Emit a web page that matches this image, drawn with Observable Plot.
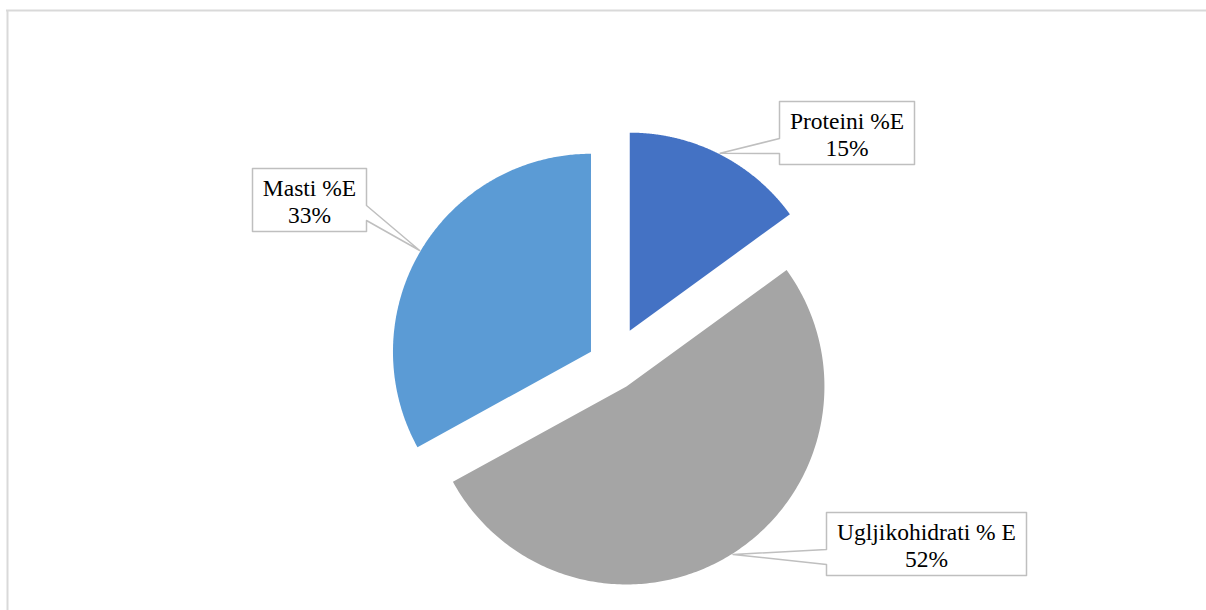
<!DOCTYPE html>
<html>
<head>
<meta charset="utf-8">
<script src="https://cdn.jsdelivr.net/npm/d3@7"></script>
<script src="https://cdn.jsdelivr.net/npm/@observablehq/plot@0.6"></script>
<style>
  html, body { margin: 0; padding: 0; background: #ffffff; }
  #chart svg { display: block; }
  #chart svg text, #chart svg tspan { font-family: "Liberation Serif", "Times New Roman", Times, "DejaVu Serif", serif !important; }
</style>
</head>
<body>
<div id="chart"></div>
<script>
// ---- data ----
const categories = ["Proteini %E", "Ugljikohidrati % E", "Masti %E"];
const values = [15, 52, 33];
const valueLabels = ["15%", "52%", "33%"];

// ---- styles / layout ----
const colors = ["#4472C4", "#A5A5A5", "#5B9BD5"];
const W = 1206, H = 610;
const pieCenter = [612, 364];
const radius = 198;
const explode = [38, 26, 25];
const labelBoxes = [
  {cx: 846.5, cy: 132.5, w: 135, h: 63},
  {cx: 926, cy: 543.5, w: 200, h: 63},
  {cx: 309, cy: 199.5, w: 114, h: 63}
];

const arcs = d3.pie().sort(null).value(d => d)(values);

// slice outlines derived from the pie layout
const slicePts = [];
const tips = [];
arcs.forEach((a, i) => {
  const mid = (a.startAngle + a.endAngle) / 2;
  const ox = pieCenter[0] + explode[i] * Math.sin(mid);
  const oy = pieCenter[1] - explode[i] * Math.cos(mid);
  slicePts.push({cat: categories[i], x: ox, y: oy});
  const n = 240;
  for (let k = 0; k <= n; k++) {
    const t = a.startAngle + (a.endAngle - a.startAngle) * k / n;
    slicePts.push({cat: categories[i], x: ox + radius * Math.sin(t), y: oy - radius * Math.cos(t)});
  }
  tips.push([ox + (radius + 1) * Math.sin(mid), oy - (radius + 1) * Math.cos(mid)]);
});

// callout outlines (box + wedge pointing to slice midpoint)
const calloutPts = [];
labelBoxes.forEach((b, i) => {
  const [tx, ty] = tips[i];
  const l = b.cx - b.w / 2, r = b.cx + b.w / 2, t = b.cy - b.h / 2, bt = b.cy + b.h / 2;
  const y1 = b.cy + 5.5, y2 = b.cy + 20.5;
  let pts;
  if (tx < l) {
    pts = [[l, t], [r, t], [r, bt], [l, bt], [l, y2], [tx, ty], [l, y1]];
  } else {
    pts = [[l, t], [r, t], [r, y1], [tx, ty], [r, y2], [r, bt], [l, bt]];
  }
  pts.forEach(p => calloutPts.push({cat: categories[i], x: p[0], y: p[1]}));
});

const labelData = categories.map((c, i) => ({
  x: labelBoxes[i].cx, y: labelBoxes[i].cy, text: c + "\n" + valueLabels[i]
}));

const chart = Plot.plot({
  width: W,
  height: H,
  margin: 0,
  x: {domain: [0, W], range: [0, W], axis: null},
  y: {domain: [0, H], range: [0, H], axis: null},
  color: {domain: categories, range: colors},
  style: {background: "white", overflow: "visible"},
  marks: [
    Plot.ruleX([7], {y1: 10, y2: H, stroke: "#D9D9D9", strokeWidth: 2}),
    Plot.ruleY([10], {x1: 6, x2: W, stroke: "#D9D9D9", strokeWidth: 2}),
    Plot.line(slicePts, {x: "x", y: "y", z: "cat", fill: "cat", stroke: "none", curve: "linear-closed"}),
    Plot.line(calloutPts, {x: "x", y: "y", z: "cat", fill: "white", stroke: "#BFBFBF", strokeWidth: 1.5, curve: "linear-closed"}),
    Plot.text(labelData, {x: "x", y: "y", text: "text", fill: "black", fontSize: 23.5,
      fontFamily: "Liberation Serif, DejaVu Serif, serif", lineHeight: 1.15, dy: 1, textAnchor: "middle"})
  ]
});
document.getElementById("chart").appendChild(chart);
</script>
</body>
</html>
